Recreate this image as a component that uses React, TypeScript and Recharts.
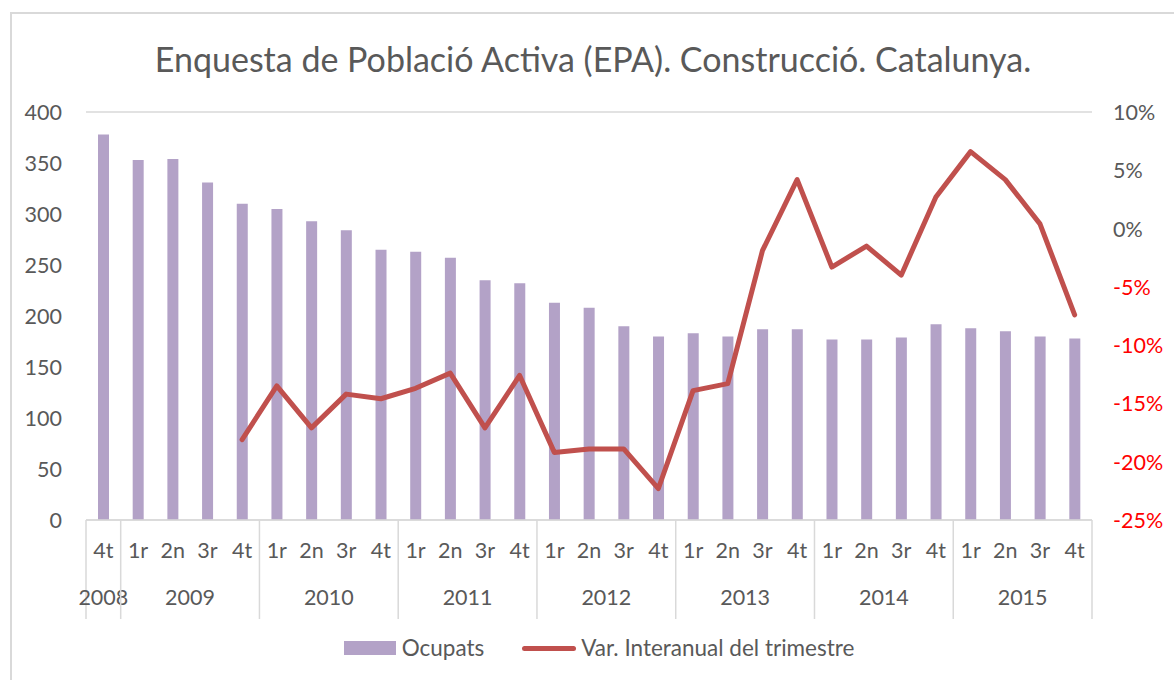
import React from 'react'
import { ComposedChart, Bar, Line, XAxis, YAxis, CartesianGrid, Legend } from 'recharts'

const quarters = ['4t', '1r', '2n', '3r', '4t', '1r', '2n', '3r', '4t', '1r', '2n', '3r', '4t', '1r', '2n', '3r', '4t', '1r', '2n', '3r', '4t', '1r', '2n', '3r', '4t', '1r', '2n', '3r', '4t']
const years = ['2008', '2009', '2009', '2009', '2009', '2010', '2010', '2010', '2010', '2011', '2011', '2011', '2011', '2012', '2012', '2012', '2012', '2013', '2013', '2013', '2013', '2014', '2014', '2014', '2014', '2015', '2015', '2015', '2015']
const ocupats = [378, 353, 354, 331, 310, 305, 293, 284, 265, 263, 257, 235, 232, 213, 208, 190, 180, 183, 180, 187, 187, 177, 177, 179, 192, 188, 185, 180, 178]
const variacio = [null, null, null, null, -18.1, -13.5, -17.1, -14.2, -14.6, -13.7, -12.4, -17.1, -12.6, -19.2, -18.9, -18.9, -22.3, -13.9, -13.3, -1.9, 4.2, -3.3, -1.5, -4.0, 2.7, 6.6, 4.2, 0.4, -7.4]

const leftTicks = [0, 50, 100, 150, 200, 250, 300, 350, 400]
const rightTicks = [-25, -20, -15, -10, -5, 0, 5, 10]

const data = quarters.map((q, i) => ({
    key: i,
    quarter: q,
    year: years[i],
    ocupats: ocupats[i],
    variacio: variacio[i],
}))

const grey = '#595959'
const lineGrey = '#d9d9d9'
const font = 'Lato, "Open Sans", sans-serif'
const tickSize = 21.5

// two-row category axis: quarter on top, year group below, with separators
function QuarterTick(props: any) {
    const { x, y, payload } = props
    const i = payload.index
    const half = payload.offset || 17.35
    const yr = years[i]
    const first = i === 0 || years[i - 1] !== yr
    const last = i === years.length - 1
    let groupSize = 0
    if (first) {
        for (let j = i; j < years.length && years[j] === yr; j++) groupSize++
    }
    const start = x - half
    return (
        <g>
            <text x={x} y={y + 30} textAnchor="middle" dominantBaseline="central" fill={grey} fontSize={tickSize} fontFamily={font}>
                {quarters[i]}
            </text>
            {first && (
                <>
                    <line x1={start} x2={start} y1={y} y2={y + 99} stroke={lineGrey} strokeWidth={1.5} />
                    <text x={start + groupSize * half} y={y + 77} textAnchor="middle" dominantBaseline="central" fill={grey} fontSize={tickSize} fontFamily={font}>
                        {yr}
                    </text>
                </>
            )}
            {last && <line x1={x + half} x2={x + half} y1={y} y2={y + 99} stroke={lineGrey} strokeWidth={1.5} />}
        </g>
    )
}

function PctTick(props: any) {
    const { x, y, payload } = props
    const v = payload.value
    return (
        <text x={x} y={y} textAnchor="start" dominantBaseline="central" fill={v < 0 ? '#ff0000' : grey} fontSize={tickSize} fontFamily={font}>
            {v}%
        </text>
    )
}

function LegendBox() {
    return (
        <div style={{ display: 'flex', justifyContent: 'center', alignItems: 'center', fontFamily: font, fontSize: 22.5, lineHeight: '24px', color: grey, paddingLeft: 24 }}>
            <span style={{ display: 'inline-block', width: 52, height: 14, background: '#b3a2c7', marginRight: 6 }} />
            <span style={{ marginRight: 38 }}>Ocupats</span>
            <span style={{ display: 'inline-block', width: 54, height: 5, borderRadius: 3, background: '#c0504d', marginRight: 5 }} />
            <span>Var. Interanual del trimestre</span>
        </div>
    )
}

export default function App() {
    return (
        <div style={{ position: 'absolute', left: 0, top: 0, width: 1174, height: 680, overflow: 'hidden', background: '#fff' }}>
            <div style={{ position: 'absolute', left: 10, top: 12, width: 1200, height: 700, border: `2px solid ${lineGrey}`, boxSizing: 'border-box' }} />
            <div style={{ position: 'absolute', left: 0, top: 38, width: 1186, textAlign: 'center', fontFamily: font, fontSize: 34, color: grey }}>
                Enquesta de Població Activa (EPA). Construcció. Catalunya.
            </div>
            <div style={{ position: 'absolute', left: 0, top: 0 }}>
                <ComposedChart width={1174} height={680} data={data} margin={{ top: 112, right: 12, bottom: 36, left: 26 }}>
                    <CartesianGrid vertical={false} stroke={lineGrey} strokeWidth={1.5} />
                    <XAxis dataKey="key" interval={0} tick={<QuarterTick />} tickLine={false} tickSize={0} tickMargin={0} height={100} stroke={lineGrey} strokeWidth={1.5} />
                    <YAxis yAxisId="left" domain={[0, 400]} ticks={leftTicks} width={60} axisLine={false} tickLine={false} tickMargin={18}
                        tick={{ fill: grey, fontSize: tickSize, fontFamily: font }} />
                    <YAxis yAxisId="right" orientation="right" domain={[-25, 10]} ticks={rightTicks} width={70} axisLine={false} tickLine={false}
                        tickMargin={15} tick={<PctTick />} />
                    <Bar yAxisId="left" dataKey="ocupats" name="Ocupats" fill="#b3a2c7" barSize={11} isAnimationActive={false} />
                    <Line yAxisId="right" dataKey="variacio" name="Var. Interanual del trimestre" stroke="#c0504d" strokeWidth={5}
                        dot={false} strokeLinejoin="round" strokeLinecap="round" connectNulls={false} isAnimationActive={false} />
                    <Legend content={<LegendBox />} verticalAlign="bottom" wrapperStyle={{ left: 0, width: 1174, top: 636 }} />
                </ComposedChart>
            </div>
        </div>
    )
}
